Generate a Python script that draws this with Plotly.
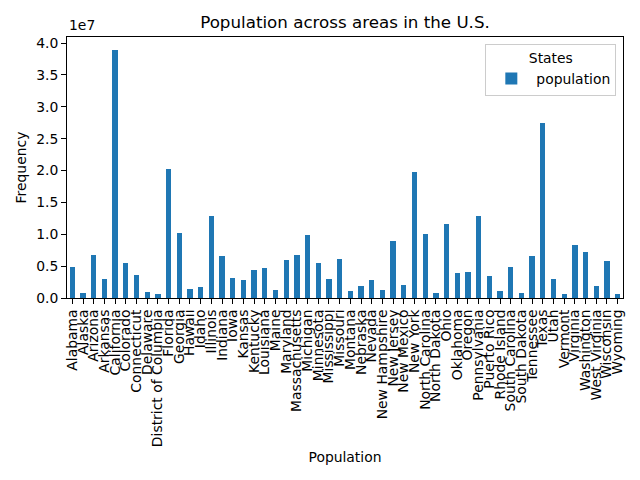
import plotly.graph_objects as go

states = ["Alabama", "Alaska", "Arizona", "Arkansas", "California", "Colorado", "Connecticut",
          "Delaware", "District of Columbia", "Florida", "Georgia", "Hawaii", "Idaho", "Illinois",
          "Indiana", "Iowa", "Kansas", "Kentucky", "Louisiana", "Maine", "Maryland",
          "Massachusetts", "Michigan", "Minnesota", "Mississippi", "Missouri", "Montana",
          "Nebraska", "Nevada", "New Hampshire", "New Jersey", "New Mexico", "New York",
          "North Carolina", "North Dakota", "Ohio", "Oklahoma", "Oregon", "Pennsylvania",
          "Puerto Rico", "Rhode Island", "South Carolina", "South Dakota", "Tennessee", "Texas",
          "Utah", "Vermont", "Virginia", "Washington", "West Virginia", "Wisconsin", "Wyoming"]

population = [4850000, 738000, 6810000, 2980000, 38980000, 5440000, 3590000,
              944000, 672000, 20280000, 10200000, 1420000, 1690000, 12850000,
              6610000, 3120000, 2900000, 4420000, 4660000, 1330000, 5990000,
              6790000, 9930000, 5490000, 2990000, 6080000, 1030000,
              1890000, 2890000, 1330000, 8960000, 2090000, 19800000,
              10050000, 736000, 11610000, 3900000, 4030000, 12790000,
              3470000, 1060000, 4860000, 856000, 6550000, 27420000,
              2990000, 626000, 8300000, 7170000, 1830000, 5760000, 583000]

ytick_vals = [0, 5e6, 1e7, 1.5e7, 2e7, 2.5e7, 3e7, 3.5e7, 4e7]
ytick_text = ["0.0", "0.5", "1.0", "1.5", "2.0", "2.5", "3.0", "3.5", "4.0"]

FONT = "DejaVu Sans"

fig = go.Figure()
fig.add_trace(go.Bar(
    x=list(range(len(states))), y=population, name="population",
    marker=dict(color="#1f77b4", line=dict(width=0)), width=0.5,
))

fig.update_layout(
    width=640, height=480,
    margin=dict(l=66.7, r=16.7, t=37.3, b=182.3, pad=0),
    paper_bgcolor="white", plot_bgcolor="white",
    font=dict(family=FONT, size=13.9, color="black"),
    title=dict(text="Population across areas in the U.S.", x=0.5, xref="paper",
               y=1 - 22 / 480, yref="container", xanchor="center", yanchor="middle",
               font=dict(size=16.7, family=FONT, color="black")),
    showlegend=True,
    legend=dict(x=0.988, y=0.974, xanchor="right", yanchor="top",
                bordercolor="#cccccc", borderwidth=1, bgcolor="rgba(255,255,255,0.8)",
                title=dict(text="States", side="top center", font=dict(size=13.9)),
                font=dict(size=13.9), itemwidth=40, tracegroupgap=0),
    bargap=0,
)

fig.update_xaxes(
    range=[-0.5, len(states) - 0.5], tickmode="array",
    tickvals=list(range(len(states))), ticktext=states, tickangle=-90,
    showline=True, linecolor="black", linewidth=1, mirror=True,
    ticks="outside", ticklen=4.9, tickwidth=1, tickcolor="black",
    showgrid=False, zeroline=False, automargin=False,
    tickfont=dict(size=13.9, family=FONT),
    title=dict(text="Population", standoff=6, font=dict(size=13.9)),
)
fig.update_yaxes(
    range=[0, 4.095e7], tickmode="array", tickvals=ytick_vals, ticktext=ytick_text,
    showline=True, linecolor="black", linewidth=1, mirror=True,
    ticks="outside", ticklen=4.9, tickwidth=1, tickcolor="black",
    showgrid=False, zeroline=False, automargin=False,
    tickfont=dict(size=13.9, family=FONT),
    title=dict(text="Frequency", standoff=6, font=dict(size=13.9)),
)

fig.add_annotation(text="1e7", xref="paper", yref="paper", x=0, y=1,
                   xanchor="left", yanchor="bottom", showarrow=False,
                   yshift=2, font=dict(size=13.9, family=FONT))

fig.write_html("out.html", config={"displayModeBar": False},
               post_script="document.body.style.margin='0px';")
